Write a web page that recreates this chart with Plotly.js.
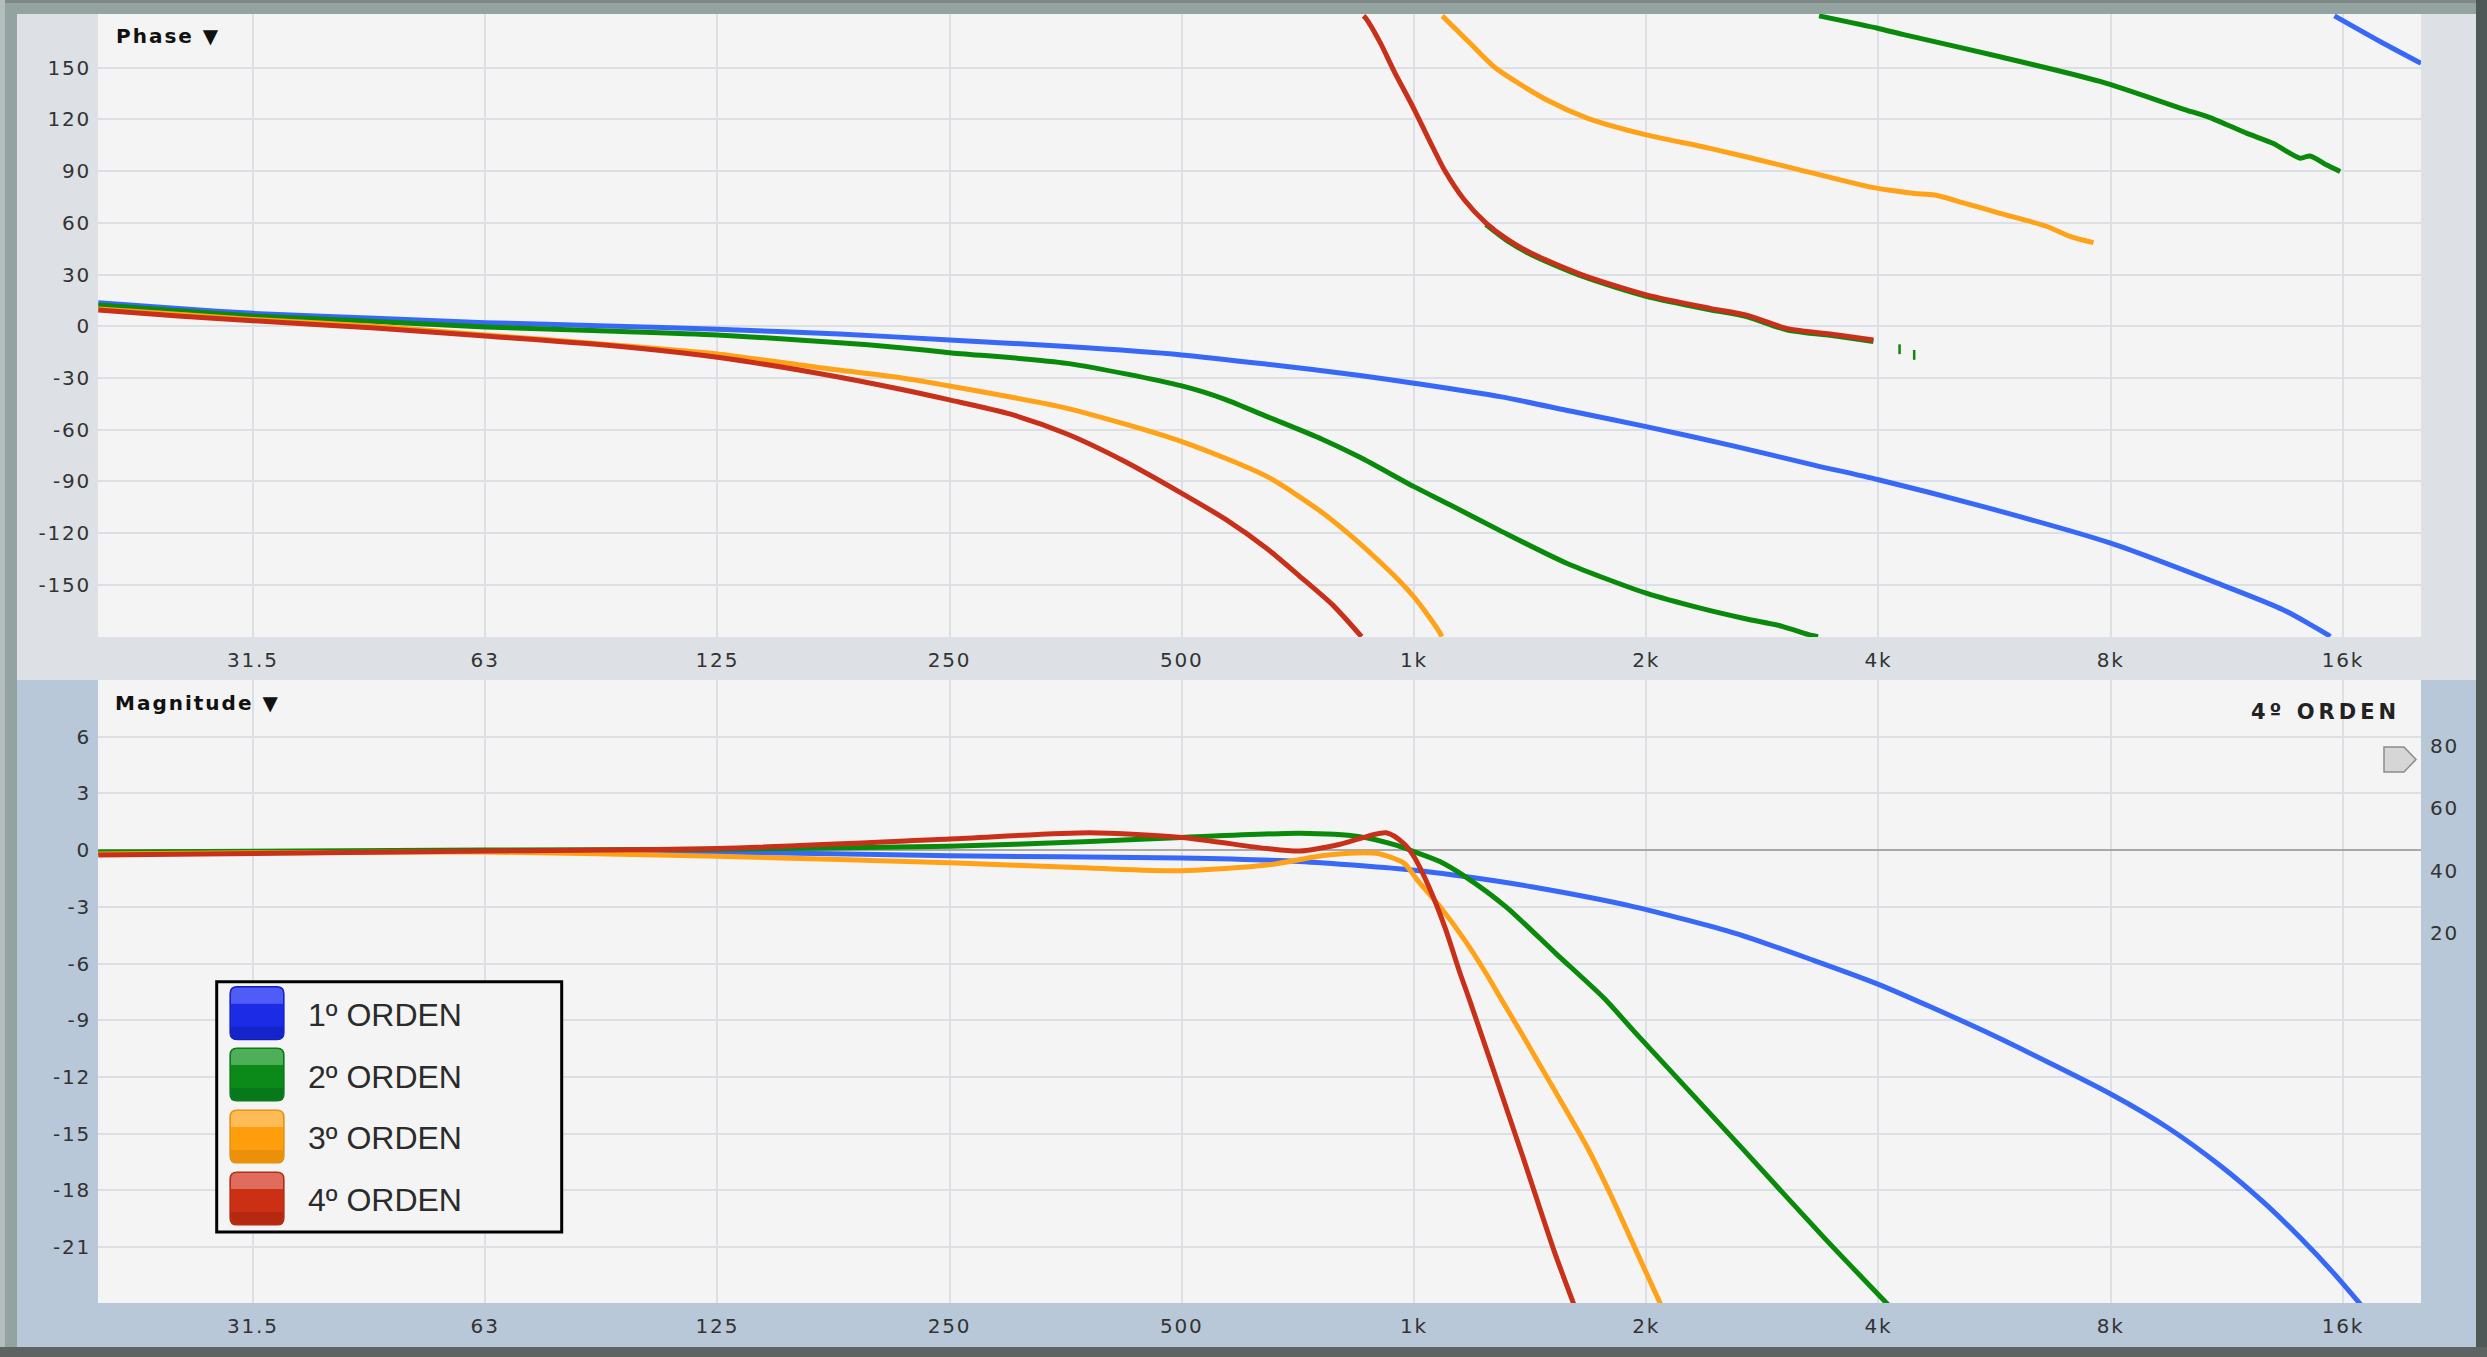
<!DOCTYPE html>
<html>
<head>
<meta charset="utf-8">
<script src="https://cdn.plot.ly/plotly-3.0.1.min.js"></script>
<style>
html,body{margin:0;padding:0;background:#93a39f;overflow:hidden;}
#chart{width:2487px;height:1357px;}
g.xtick text, g.x2tick text, g.ytick text, g.y2tick text, g.y3tick text{letter-spacing:1.8px;}
g.annotation[data-index="0"] text, g.annotation[data-index="1"] text{letter-spacing:2px;}
g.annotation[data-index="2"] text{letter-spacing:4px;}
</style>
</head>
<body>
<div id="chart"></div>
<script>
// ---------------- DATA ----------------
const seriesNames = ["1º ORDEN", "2º ORDEN", "3º ORDEN", "4º ORDEN"];
const freqTicks = [31.25, 62.5, 125, 250, 500, 1000, 2000, 4000, 8000, 16000];
const freqTickLabels = ["31.5", "63", "125", "250", "500", "1k", "2k", "4k", "8k", "16k"];
const phaseTicks = [-150, -120, -90, -60, -30, 0, 30, 60, 90, 120, 150];
const phaseTickLabels = ["-150", "-120", "-90", "-60", "-30", "0", "30", "60", "90", "120", "150"];
const magTicks = [-21, -18, -15, -12, -9, -6, -3, 0, 3, 6];
const magTickLabels = ["-21", "-18", "-15", "-12", "-9", "-6", "-3", "0", "3", "6"];
const rightTicks = [20, 40, 60, 80];
const rightTickLabels = ["20", "40", "60", "80"];
const panelTitles = ["Phase ▼", "Magnitude ▼", "4º ORDEN"];

// Phase (degrees), wrapped to +-180 (null = wrap break)
const phaseFreq1 = [19.7, 25, 31.25, 45, 62.5, 90, 125, 180, 250, 355, 500, 645, 851, 1000, 1293, 1600, 2000, 2600, 3300, 4000, 5470, 8000, 11000, 13400, 15300, 15400, 15500, 15600, 17900, 20200];
const phase1 = [13.7, 10.3, 7.5, 4.6, 2.1, 0.2, -1.7, -4.5, -7.9, -11.8, -16.6, -22, -28.5, -33, -40.8, -49.3, -58.2, -69.5, -80.5, -89, -104.6, -125.8, -149, -164.5, -179, -180, null, 180, 165, 152.5];

const phaseFreq2 = [19.7, 25, 31.25, 45, 62.5, 90, 125, 180, 216, 250, 355, 500, 570, 645, 760, 851, 1000, 1113, 1293, 1577, 2000, 2350, 2680, 3000, 3240, 3340, 3345, 3350, 4000, 4300, 5750, 7750, 9930, 10760, 12000, 13000, 14080, 14500, 15250, 15870];
const phase2 = [12.4, 9, 6, 2.8, -0.4, -2.7, -5, -9.5, -12.4, -15.3, -21.5, -34.6, -42.5, -52.4, -65.5, -76, -93, -103.5, -118.5, -137.4, -154.8, -163.5, -169.5, -174, -178.7, -180, null, 180, 172.7, 169.3, 156.3, 142, 126, 121, 112, 106, 97.5, 98.8, 93.5, 89.7];

// second green branch (mostly hidden under the red one) and two isolated green points
const phaseFreq2b = [1239, 1320, 1420, 1655, 2000, 2420, 2690, 3040, 3540, 3940];
const phase2b = [59, 49.7, 41.5, 28.9, 17.4, 9.6, 5.8, -2, -5.8, -8.8];
const phaseFreq2c = [4260, 4450];
const phase2c = [-13.3, -16.6];

const phaseFreq3 = [19.7, 25, 31.25, 45, 62.5, 90, 125, 170, 216, 250, 355, 500, 645, 760, 851, 905, 959, 1000, 1040, 1081, 1086, 1087, 1088, 1183, 1277, 1487, 1680, 2000, 2420, 3040, 3880, 4120, 4450, 4730, 5180, 5750, 6600, 7100, 7600];
const phase3 = [10, 7, 4, 0, -5, -10.5, -16, -24, -29.8, -34.6, -47.6, -66.9, -87.2, -108, -126, -137, -148, -157, -167, -178, -180, null, 180, 164, 149.6, 131.2, 120.6, 111, 103.2, 92.6, 81, 79, 77, 76.1, 71.3, 65.5, 58, 52, 48.5];

const phaseFreq4 = [19.7, 25, 31.25, 45, 62.5, 90, 125, 170, 216, 250, 300, 355, 420, 500, 570, 645, 711, 786, 855, 857, 860, 866, 904, 942, 1000, 1049, 1097, 1161, 1239, 1320, 1420, 1655, 2000, 2420, 2690, 3040, 3540, 3940];
const phase4 = [9.5, 6, 3.2, -1, -5.6, -11, -18, -27.5, -36.5, -42.7, -51, -62.5, -78, -96.9, -112, -129, -145, -162, -180, null, 180, 178.6, 164.5, 148, 126, 107, 90, 73.5, 60, 50.5, 42.3, 29.7, 18.2, 10.4, 6.6, -1.2, -5, -8];

// Magnitude (dB)
const magFreq1 = [19.7, 31.25, 62.5, 125, 250, 500, 711, 1000, 1165, 1420, 1930, 2610, 3280, 4000, 5500, 8000, 9500, 11100, 12600, 14080, 15500, 17000];
const mag1 = [-0.15, -0.1, -0.05, -0.1, -0.3, -0.42, -0.6, -1.06, -1.4, -1.94, -3.0, -4.4, -5.8, -7.1, -9.6, -12.9, -14.7, -16.7, -18.6, -20.5, -22.3, -24.2];

const magFreq2 = [19.7, 62.5, 125, 250, 380, 500, 711, 850, 950, 1000, 1080, 1165, 1316, 1530, 1760, 1930, 2680, 3400, 4150];
const mag2 = [-0.1, 0, 0.05, 0.2, 0.45, 0.67, 0.89, 0.71, 0.25, -0.08, -0.6, -1.4, -3.0, -5.5, -7.8, -9.6, -15.9, -20.5, -24.2];

const magFreq3 = [19.7, 62.5, 125, 250, 380, 500, 645, 773, 893, 971, 1010, 1081, 1165, 1239, 1285, 1383, 1501, 1671, 1797, 1926, 2097];
const mag3 = [-0.2, -0.1, -0.33, -0.67, -0.95, -1.09, -0.79, -0.26, -0.17, -0.7, -1.59, -3.0, -4.8, -6.5, -7.6, -9.8, -12.3, -15.6, -18.2, -20.9, -24.2];

const magFreq4 = [19.7, 62.5, 125, 250, 380, 500, 645, 711, 800, 920, 970, 1000, 1047, 1097, 1147, 1182, 1383, 1519, 1617];
const mag4 = [-0.26, -0.05, 0.08, 0.59, 0.92, 0.67, 0.08, -0.05, 0.3, 0.92, 0.35, -0.35, -2.0, -4.1, -6.5, -8.0, -16.2, -21.2, -24.2];

// ---------------- STYLE / LAYOUT ----------------
const colors = ["#3768f8", "#0a8a0a", "#ffa218", "#c9301a"];
const lineW = 5;

const W = 2487, H = 1357;
const L = 98, R = 2421, T = 14, B = 1303;
const PW = R - L, PH = B - T;
const px = x => (x - L) / PW;
const py = y => (B - y) / PH;

function line(x, y, c, xa, ya, extra) {
  return Object.assign({
    type: "scatter", mode: "lines", x: x, y: y, xaxis: xa, yaxis: ya,
    line: {color: c, width: lineW, shape: "spline", smoothing: 0.7}, connectgaps: false,
    showlegend: false, hoverinfo: "skip"
  }, extra || {});
}

const traces = [
  line(phaseFreq1, phase1, colors[0], "x", "y"),
  line(phaseFreq2, phase2, colors[1], "x", "y"),
  line(phaseFreq2b, phase2b, colors[1], "x", "y"),
  {type: "scatter", mode: "markers", x: phaseFreq2c, y: phase2c, xaxis: "x", yaxis: "y", showlegend: false, hoverinfo: "skip",
    marker: {symbol: "line-ns-open", size: 7, color: colors[1], line: {width: 2.5, color: colors[1]}}},
  line(phaseFreq3, phase3, colors[2], "x", "y"),
  line(phaseFreq4, phase4, colors[3], "x", "y"),
  line(magFreq1, mag1, colors[0], "x2", "y2"),
  line(magFreq2, mag2, colors[1], "x2", "y2"),
  line(magFreq3, mag3, colors[2], "x2", "y2"),
  line(magFreq4, mag4, colors[3], "x2", "y2"),
  {type: "scatter", mode: "lines", x: [], y: [], xaxis: "x2", yaxis: "y3", showlegend: false, hoverinfo: "skip"}
];

const tickFont = {family: "DejaVu Sans", size: 20, color: "#333333"};
const gridC = "#dcdfe3";
const xRange = [Math.log10(19.68), Math.log10(20200)];

const xBase = {
  type: "log", range: xRange, tickmode: "array", tickvals: freqTicks, ticktext: freqTickLabels,
  showgrid: true, gridcolor: gridC, gridwidth: 2, zeroline: false, showline: false,
  ticks: "", tickfont: tickFont, ticklabelstandoff: 9, fixedrange: true
};

function rect(x0, y0, x1, y1, fill, extra) {
  return Object.assign({type: "rect", xref: "paper", yref: "paper", x0: px(x0), x1: px(x1), y0: py(y1), y1: py(y0),
    fillcolor: fill, line: {width: 0}, layer: "below"}, extra || {});
}
function P(x, y) { return px(x).toFixed(6) + "," + py(y).toFixed(6); }
function rrectPath(x0, y0, x1, y1, r) {
  return "M" + P(x0 + r, y0) + " L" + P(x1 - r, y0) + " Q" + P(x1, y0) + " " + P(x1, y0 + r) +
    " L" + P(x1, y1 - r) + " Q" + P(x1, y1) + " " + P(x1 - r, y1) +
    " L" + P(x0 + r, y1) + " Q" + P(x0, y1) + " " + P(x0, y1 - r) +
    " L" + P(x0, y0 + r) + " Q" + P(x0, y0) + " " + P(x0 + r, y0) + " Z";
}
function topPath(x0, y0, x1, y1, r) {
  return "M" + P(x0 + r, y0) + " L" + P(x1 - r, y0) + " Q" + P(x1, y0) + " " + P(x1, y0 + r) +
    " L" + P(x1, y1) + " L" + P(x0, y1) + " L" + P(x0, y0 + r) + " Q" + P(x0, y0) + " " + P(x0 + r, y0) + " Z";
}
function botPath(x0, y0, x1, y1, r) {
  return "M" + P(x0, y0) + " L" + P(x1, y0) + " L" + P(x1, y1 - r) + " Q" + P(x1, y1) + " " + P(x1 - r, y1) +
    " L" + P(x0 + r, y1) + " Q" + P(x0, y1) + " " + P(x0, y1 - r) + " Z";
}

const shapes = [
  rect(0, 0, W, 3, "#7f8886"),
  rect(0, 0, 5, H, "#b3bdbb"),
  rect(17, 14, 2476, 680, "#dde1e6"),
  rect(17, 680, 2476, 1347, "#b8c8d8"),
  rect(L, 14, R, 637, "#f4f4f4"),
  rect(L, 680, R, B, "#f4f4f4"),
  rect(2476, 0, W, H, "#4e5856"),
  rect(0, 1347, W, H, "#5d6462")
];

// legend box
const legX0 = 216.7, legX1 = 561.7, legY0 = 981.7, legY1 = 1232;
shapes.push(rect(legX0, legY0, legX1, legY1, "#f4f4f4", {layer: "above", line: {color: "#000000", width: 3}}));
const swTop = [986.7, 1048, 1110, 1172];
const swMain = ["#1c2ce6", "#0b8a1a", "#ff9e0c", "#cc3014"];
const swLight = ["#4f5cf8", "#4fae58", "#ffbb55", "#df6c5c"];
const swDark = ["#1422c4", "#08741a", "#e58c0a", "#b02810"];
const swEdge = ["#1420b0", "#08701a", "#d88a10", "#a82a12"];
for (let i = 0; i < 4; i++) {
  const y0 = swTop[i], y1 = y0 + 53, x0 = 230, x1 = 284;
  shapes.push({type: "path", xref: "paper", yref: "paper", layer: "above", path: rrectPath(x0, y0, x1, y1, 7),
    fillcolor: swMain[i], line: {color: swEdge[i], width: 1.2}});
  shapes.push({type: "path", xref: "paper", yref: "paper", layer: "above", path: topPath(x0 + 1, y0 + 1, x1 - 1, y0 + 17, 6),
    fillcolor: swLight[i], line: {width: 0}});
  shapes.push({type: "path", xref: "paper", yref: "paper", layer: "above", path: botPath(x0 + 1, y1 - 13, x1 - 1, y1 - 1, 6),
    fillcolor: swDark[i], line: {width: 0}, opacity: 0.8});
}
// pentagon marker at right of magnitude
shapes.push({type: "path", xref: "paper", yref: "paper", layer: "above",
  path: "M" + P(2384, 747) + " L" + P(2404, 747) + " L" + P(2416, 759.5) + " L" + P(2404, 772) + " L" + P(2384, 772) + " Z",
  fillcolor: "#d6d6d6", line: {color: "#8c8c8c", width: 1.5}});

const ann = [
  {text: "<b>" + panelTitles[0] + "</b>", x: px(121), y: py(36.5), xanchor: "left", yanchor: "middle",
    font: {family: "DejaVu Sans", size: 20, color: "#111111"}},
  {text: "<b>" + panelTitles[1] + "</b>", x: px(124), y: py(703), xanchor: "left", yanchor: "middle",
    font: {family: "DejaVu Sans", size: 20, color: "#111111"}},
  {text: "<b>" + panelTitles[2] + "</b>", x: px(2386), y: py(712), xanchor: "right", yanchor: "middle",
    font: {family: "DejaVu Sans", size: 21, color: "#222222"}}
];
const legCy = [1015, 1076.7, 1138.3, 1199.7];
for (let i = 0; i < 4; i++) {
  ann.push({text: seriesNames[i], x: px(306), y: py(legCy[i]), xanchor: "left", yanchor: "middle",
    font: {family: "Liberation Sans", size: 32, color: "#2b2b2b"}});
}
ann.forEach(a => { a.xref = "paper"; a.yref = "paper"; a.showarrow = false; });

const layout = {
  width: W, height: H,
  margin: {l: L, r: W - R, t: T, b: H - B, pad: 0},
  paper_bgcolor: "#93a39f",
  plot_bgcolor: "rgba(0,0,0,0)",
  showlegend: false,
  font: {family: "DejaVu Sans", size: 20, color: "#333333"},
  xaxis: Object.assign({}, xBase, {anchor: "y"}),
  xaxis2: Object.assign({}, xBase, {anchor: "y2"}),
  yaxis: {
    domain: [py(637), 1], range: [-180.2, 181.1], tickmode: "array", tickvals: phaseTicks, ticktext: phaseTickLabels,
    showgrid: true, gridcolor: gridC, gridwidth: 2, zeroline: false, showline: false, ticks: "",
    tickfont: tickFont, ticklabelstandoff: 6, anchor: "x", fixedrange: true
  },
  yaxis2: {
    domain: [0, py(680)], range: [-23.96, 9.0], tickmode: "array", tickvals: magTicks, ticktext: magTickLabels,
    showgrid: true, gridcolor: gridC, gridwidth: 2, zeroline: true, zerolinecolor: "#a9a9a9", zerolinewidth: 2,
    showline: false, ticks: "", tickfont: tickFont, ticklabelstandoff: 6, anchor: "x2", fixedrange: true
  },
  yaxis3: {
    overlaying: "y2", anchor: "x2", side: "right", range: [-98.8, 101.2], tickmode: "array",
    tickvals: rightTicks, ticktext: rightTickLabels, showgrid: false, zeroline: false, showline: false,
    ticks: "", tickfont: tickFont, ticklabelstandoff: 8, fixedrange: true
  },
  shapes: shapes,
  annotations: ann
};

Plotly.newPlot("chart", traces, layout, {staticPlot: true, displayModeBar: false});
</script>
</body>
</html>
